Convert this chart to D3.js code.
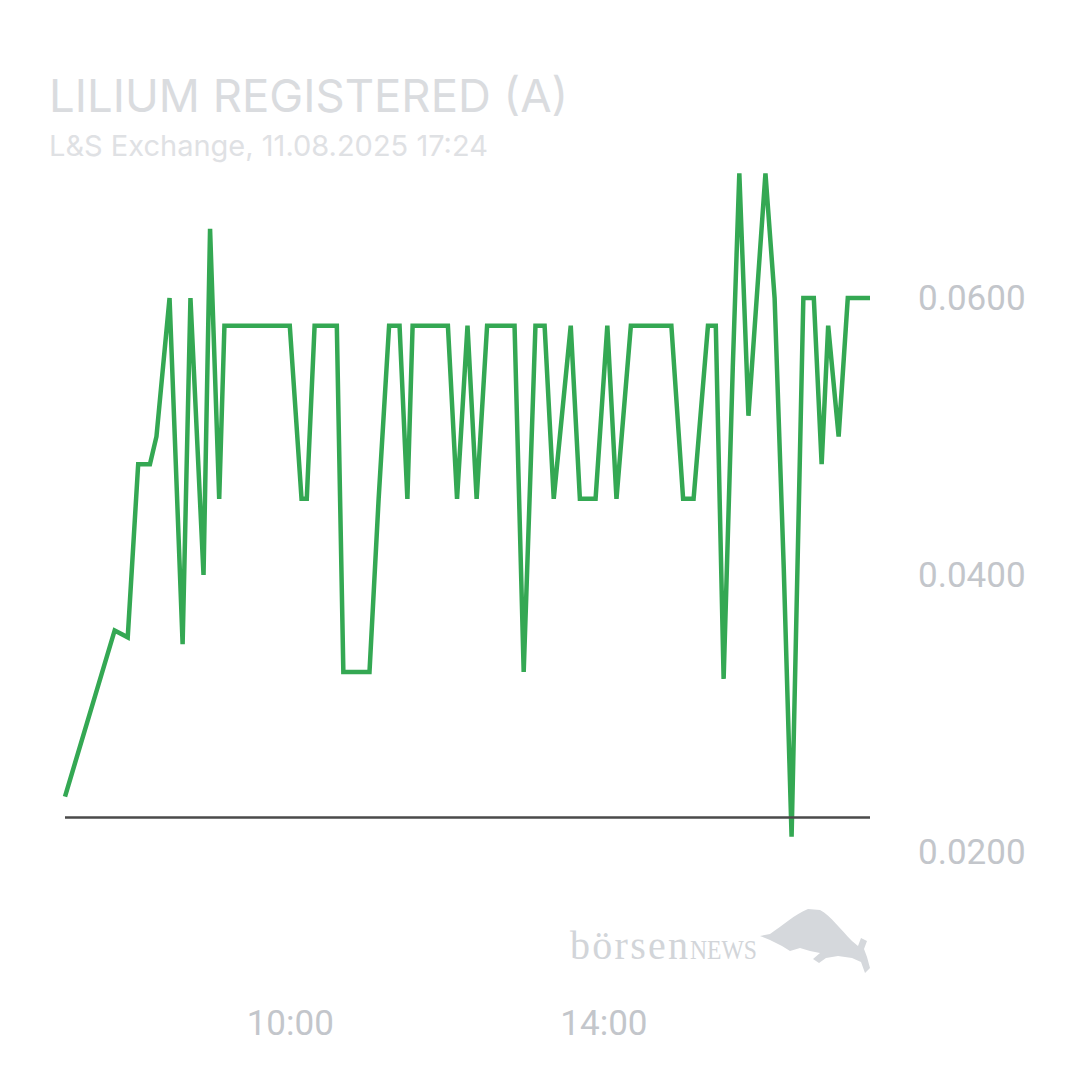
<!DOCTYPE html>
<html>
<head>
<meta charset="utf-8">
<script src="https://cdn.jsdelivr.net/npm/d3@7"></script>
<style>
    html, body { margin: 0; padding: 0; background: #fff; }
    svg { display: block; }
</style>
</head>
<body>
<svg class="main" width="1080" height="1080"></svg>
<script>
var title = "LILIUM REGISTERED (A)",
    subtitle = "L&S Exchange, 11.08.2025 17:24",
    day = "2025-08-11";

// trade times and prices
var times = [
    "07:08", "07:46", "07:56", "08:04", "08:13", "08:18", "08:28", "08:38", "08:44", "08:54",
    "08:59", "09:06", "09:10", "09:23", "09:30", "09:36", "09:43", "09:50", "10:00", "10:09",
    "10:13", "10:19", "10:27", "10:36", "10:41", "10:54", "11:01", "11:08", "11:16", "11:24",
    "11:30", "11:34", "11:42", "11:50", "11:56", "12:01", "12:08", "12:16", "12:23", "12:31",
    "12:37", "12:44", "12:52", "12:59", "13:08", "13:15", "13:22", "13:35", "13:42", "13:48",
    "13:54", "14:03", "14:10", "14:21", "14:31", "14:44", "14:52", "15:01", "15:09", "15:20",
    "15:26", "15:32", "15:39", "15:44", "15:51", "16:04", "16:11", "16:18", "16:24", "16:33",
    "16:41", "16:47", "16:52", "17:00", "17:07", "17:17", "17:24"
];
var prices = [
    0.0240, 0.0360, 0.0355, 0.0480, 0.0480, 0.0500, 0.0600, 0.0350, 0.0600, 0.0400,
    0.0650, 0.0455, 0.0580, 0.0580, 0.0580, 0.0580, 0.0580, 0.0580, 0.0580, 0.0455,
    0.0455, 0.0580, 0.0580, 0.0580, 0.0330, 0.0330, 0.0330, 0.0455, 0.0580, 0.0580,
    0.0455, 0.0580, 0.0580, 0.0580, 0.0580, 0.0580, 0.0455, 0.0580, 0.0455, 0.0580,
    0.0580, 0.0580, 0.0580, 0.0330, 0.0580, 0.0580, 0.0455, 0.0580, 0.0455, 0.0455,
    0.0455, 0.0580, 0.0455, 0.0580, 0.0580, 0.0580, 0.0580, 0.0455, 0.0455, 0.0580,
    0.0580, 0.0325, 0.0550, 0.0690, 0.0515, 0.0690, 0.0600, 0.0405, 0.0211, 0.0600,
    0.0600, 0.0480, 0.0580, 0.0500, 0.0600, 0.0600, 0.0600
];
var previousClose = 0.0225;
var yTicks = [0.02, 0.04, 0.06],
    xTicks = ["10:00", "14:00"];

var parseTime = d3.timeParse("%Y-%m-%d %H:%M");

var data = times.map(function(t, i) {
    return { date: parseTime(day + " " + t), price: prices[i] };
});

var layout = {
    left: 65,
    right: 870,
    top: 298,
    bottom: 852
};

var svg = d3.select(".main");

var x = d3.scaleTime()
    .domain(d3.extent(data, function(d) { return d.date; }))
    .range([layout.left, layout.right]);

var y = d3.scaleLinear()
    .domain([0.02, 0.06])
    .range([layout.bottom, layout.top]);

/**
 * Title
 */
svg.append("text")
    .attr("x", 49)
    .attr("y", 112)
    .style("font-family", "Inter, sans-serif")
    .style("font-size", "45.5px")
    .style("fill", "#dadcdf")
    .text(title);

svg.append("text")
    .attr("x", 49)
    .attr("y", 156)
    .style("font-family", "Inter, sans-serif")
    .style("font-size", "29px")
    .style("fill", "#dfe1e4")
    .text(subtitle);

/**
 * Axes
 */
var yAxis = d3.axisRight(y)
    .tickValues(yTicks)
    .tickSize(0)
    .tickPadding(0)
    .tickFormat(d3.format(".4f"));

svg.append("g")
    .attr("class", "y-axis")
    .attr("transform", "translate(918,0)")
    .call(yAxis)
    .call(function(g) { g.select(".domain").remove(); });

var xAxis = d3.axisBottom(x)
    .tickValues(xTicks.map(function(t) { return parseTime(day + " " + t); }))
    .tickSize(0)
    .tickPadding(0)
    .tickFormat(d3.timeFormat("%H:%M"));

svg.append("g")
    .attr("class", "x-axis")
    .attr("transform", "translate(0,1010)")
    .call(xAxis)
    .call(function(g) { g.select(".domain").remove(); });

svg.selectAll(".y-axis text, .x-axis text")
    .style("font-family", "Roboto, sans-serif")
    .style("font-size", "35px")
    .style("fill", "#c3c6cb");

svg.selectAll(".x-axis text").attr("dy", "0.71em");

/**
 * Watermark
 */
var mark = svg.append("g").attr("class", "watermark");

mark.append("text")
    .attr("x", 570)
    .attr("y", 959)
    .style("font-family", "'Liberation Serif', 'DejaVu Serif', serif")
    .style("font-size", "40px")
    .style("fill", "#d2d5d9")
    .attr("textLength", 118)
    .attr("lengthAdjust", "spacing")
    .text("börsen");

mark.append("text")
    .attr("x", 690)
    .attr("y", 959)
    .style("font-family", "'Liberation Serif', 'DejaVu Serif', serif")
    .style("font-size", "28px")
    .style("fill", "#d2d5d9")
    .attr("textLength", 67)
    .attr("lengthAdjust", "spacingAndGlyphs")
    .text("NEWS");

// bull silhouette
mark.append("path")
    .attr("fill", "#d5d8dc")
    .attr("d", "M760 936 L770 934 C782 926 795 914 808 909 L820 910 " +
        "C831 916 841 930 852 941 L858 946 L861 938 L867 941 L864 949 " +
        "L867 957 L870 968 L865 973 L861 962 L852 958 L838 956 L826 958 " +
        "L819 963 L813 959 L820 953 L810 951 L800 948 L790 951 L782 946 L770 940 Z");

/**
 * Price line
 */
var line = d3.line()
    .x(function(d) { return x(d.date); })
    .y(function(d) { return y(d.price); });

svg.append("path")
    .datum(data)
    .attr("fill", "none")
    .attr("stroke", "#34a853")
    .attr("stroke-width", 4.5)
    .attr("d", line);

// previous close
svg.append("line")
    .attr("x1", layout.left)
    .attr("x2", layout.right)
    .attr("y1", y(previousClose))
    .attr("y2", y(previousClose))
    .attr("stroke", "#4a4a4a")
    .attr("stroke-width", 2.5);
</script>
</body>
</html>
